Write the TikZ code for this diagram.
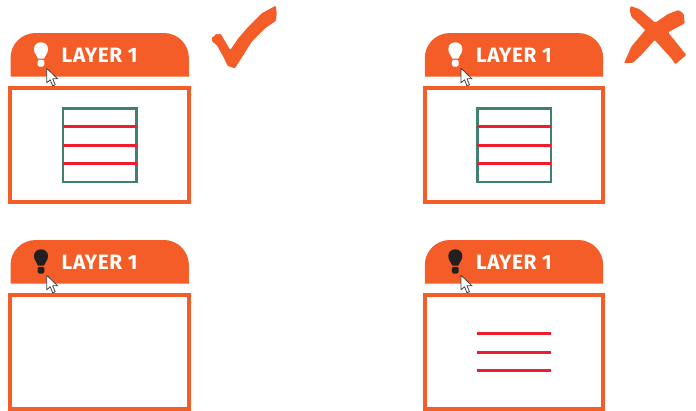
\documentclass[tikz,border=0pt]{standalone}
\usepackage{fontspec}
\setsansfont{Fira Sans}
\usepackage{tikz}
\usetikzlibrary{
    positioning
}
\definecolor{layerorange}{HTML}{F45D27}
\definecolor{gridgreen}{HTML}{3F8071}
\definecolor{rowred}{HTML}{ED1C2E}
\definecolor{bulbdark}{HTML}{231F20}
\tikzset{
    panel/.style={
        draw=layerorange,
        line width=4pt,
        minimum width=178.5pt,
        minimum height=114pt,
        inner sep=0pt
    },
    gridbox/.style={
        draw=gridgreen,
        line width=2.5pt,
        minimum width=73.8pt,
        minimum height=73.8pt,
        inner sep=0pt
    },
    layertext/.style={
        text=white,
        anchor=base west,
        inner sep=0pt,
        font=\sffamily\bfseries\fontsize{20.8}{22}\selectfont\addfontfeatures{LetterSpace=3.2}
    },
    rowline/.style={
        draw=rowred,
        line width=3pt
    },
    layertab/.pic={
        \fill[layerorange] (-89.2,21.8) [rounded corners=25pt] -- (-89.2,-21.8) -- (89.2,-21.8) [sharp corners] -- (89.2,21.8) -- cycle;
    },
    bulb/.pic={
        \path[pic actions] (-3,8.5) .. controls (-3.5,5.5) and (-7,4) .. (-7,-1) .. controls (-7,-5) and (-4,-7.7) .. (0,-7.7) .. controls (4,-7.7) and (7,-5) .. (7,-1) .. controls (7,4) and (3.5,5.5) .. (3,8.5) -- cycle;
        \path[pic actions, rounded corners=1.5pt] (-3.4,9.8) rectangle (3.4,16.5);
    },
    cursor/.pic={
        \draw[fill=white, draw=bulbdark!85, line width=0.8pt, line join=round] (0,0) -- (0,14.5) -- (3.5,11.5) -- (6,17.5) -- (8.5,16.5) -- (6,10.5) -- (11,10.5) -- cycle;
    },
    rows/.pic={
        \draw[rowline] (-37,-18.5) -- (37,-18.5);
        \draw[rowline] (-37,0) -- (37,0);
        \draw[rowline] (-37,18.5) -- (37,18.5);
    }
}

\begin{document}
\begin{tikzpicture}[
    x=1pt,
    y=-1pt
]

    \useasboundingbox (0,0) rectangle (696,410);

    % Arriba a la izquierda
    \pic at (99.7,54.8) {layertab};
    \pic[fill=white] at (41,50) {bulb};
    \node[layertext] (titleA) at (61.5,62) {LAYER 1};
    \node[panel] (panelA) at (99.7,145) {};
    \pic at (46.7,68.3) {cursor};
    \node[gridbox] (gridA) at (99.8,145.2) {};
    \pic at (99.8,145) {rows};

    % Arriba a la derecha
    \pic at (514,54.8) {layertab};
    \pic[fill=white] at (455.3,50) {bulb};
    \node[layertext] (titleB) at (475.8,62) {LAYER 1};
    \node[panel] (panelB) at (513.8,145) {};
    \pic at (461,68.3) {cursor};
    \node[gridbox] (gridB) at (514.2,145.2) {};
    \pic at (514.2,145) {rows};

    % Abajo a la izquierda
    \pic at (99.7,261.8) {layertab};
    \pic[fill=bulbdark] at (41,257) {bulb};
    \node[layertext] (titleC) at (61.5,269) {LAYER 1};
    \node[panel] (panelC) at (99.7,352.2) {};
    \pic at (46.7,275.3) {cursor};

    % Abajo a la derecha
    \pic at (514,261.8) {layertab};
    \pic[fill=bulbdark] at (455.3,257) {bulb};
    \node[layertext] (titleD) at (475.8,269) {LAYER 1};
    \node[panel] (panelD) at (513.8,352.2) {};
    \pic at (461,275.3) {cursor};
    \pic at (514.2,352) {rows};

    % Marcas
    \fill[layerorange, rounded corners=1pt] (211.7,37.3) -- (215,36) -- (216,33.3) -- (217.7,35) -- (220.3,33.3) -- (230.3,50) -- (238.3,38.3) -- (248.3,26.7) -- (261.7,13.3) -- (275.7,5.7) -- (276.7,13.3) -- (276,20.7) -- (265,28.3) -- (251.7,41.7) -- (235,68.3) -- (227.7,66) -- (223.3,56.7) -- (216.7,45) -- (212.3,41.7) -- cycle;
    \fill[layerorange, rounded corners=1pt] (630.7,6) -- (639.7,9.3) -- (655.3,22.7) -- (668,14) -- (678.7,10) -- (683.7,14) -- (684.7,23.3) -- (668,32.3) -- (686.3,55) -- (675.3,64.3) -- (671.3,58.3) -- (654.7,40) -- (641.3,55) -- (633,62.7) -- (624,63.3) -- (631.3,46.7) -- (645.3,30) -- (631.3,16.7) -- (629.7,10) -- cycle;

\end{tikzpicture}
\end{document}
